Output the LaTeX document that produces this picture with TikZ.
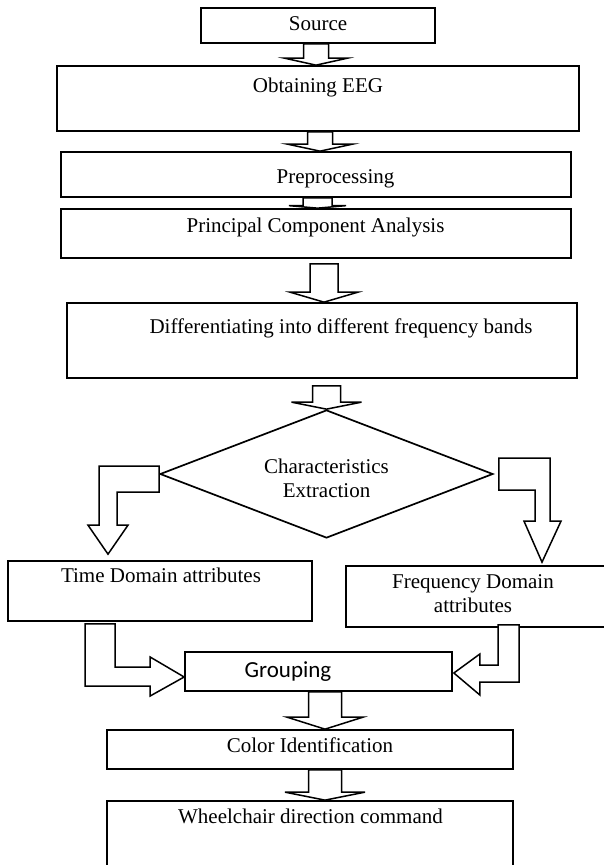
\documentclass[tikz,border=0pt]{standalone}
\usepackage{fontspec}
\setmainfont{Liberation Serif}
\newfontfamily\grpfont{Carlito}
\usepackage{tikz}
\usetikzlibrary{calc}
\usetikzlibrary{shapes.geometric}
\usetikzlibrary{positioning}

\tikzset{
  box/.style={draw, rectangle, line width=1.7pt, inner sep=0pt},
  txt/.style={anchor=base, inner sep=0pt, font=\fontsize{21}{24}\selectfont},
  fatarrow/.style={draw, line width=1.5pt, fill=white, line join=miter}
}

\newcommand{\fatdown}[5]{%
  \draw[fatarrow] let \p1=(#1), \p2=(#2) in
    (\x2-#3,\y1) -- (\x2+#3,\y1) -- (\x2+#3,\y2+#5) -- (\x2+#4,\y2+#5)
    -- (\x2,\y2) -- (\x2-#4,\y2+#5) -- (\x2-#3,\y2+#5) -- cycle;}

\begin{document}
\begin{tikzpicture}[x=1pt,y=-1pt]
            \useasboundingbox (0,0) rectangle (603,865);

            \node[box, minimum width=234, minimum height=35] (src)  at (318,25.5)  {};
            \node[box, minimum width=522, minimum height=65] (eeg)  at (318,98.5)  {};
            \node[box, minimum width=510, minimum height=45] (pre)  at (316,174.5) {};
            \node[box, minimum width=510, minimum height=49] (pca)  at (316,233.5) {};
            \node[box, minimum width=510, minimum height=75] (diff) at (322,340.5) {};
            \node[draw, diamond, line width=1.7pt, inner sep=0pt,
                  minimum width=333, minimum height=128]       (ext)  at (326.5,474) {};
            \node[box, minimum width=304, minimum height=60] (time) at (160,591)   {};
            \node[box, minimum width=262, minimum height=61] (freq) at (477,596.5) {};
            \node[box, minimum width=267, minimum height=39] (grp)  at (318.5,671.5) {};
            \node[box, minimum width=406, minimum height=39] (col)  at (310,749.5) {};
            \node[box, minimum width=406, minimum height=69] (whl)  at (310,835.5) {};

            \node[txt] (src-t)  at (318,30)   {Source};
            \node[txt] (eeg-t)  at (318,92)   {Obtaining EEG};
            \node[txt] (pre-t)  at (335.5,183) {Preprocessing};
            \node[txt] (pca-t)  at (315.5,232) {Principal Component Analysis};
            \node[txt] (diff-t) at (341,333)  {Differentiating into different frequency bands};
            \node[txt, align=center] (ext-t) at (326.5,497) {Characteristics\\Extraction};
            \node[txt] (time-t) at (161,582)  {Time Domain attributes};
            \node[txt, align=center] (freq-t) at (473,612) {Frequency Domain\\attributes};
            \node[txt, font=\grpfont\fontsize{23}{26}\selectfont] (grp-t) at (288,677) {Grouping};
            \node[txt] (col-t)  at (310,752)  {Color Identification};
            \node[txt] (whl-t)  at (310.5,823) {Wheelchair direction command};

            \fatdown{src.south}{$(eeg.north)+(-2,0)$}{12.5pt}{31.5pt}{7pt}
            \fatdown{eeg.south}{$(pre.north)+(4,0)$}{12.5pt}{32.5pt}{7pt}
            \fatdown{pre.south}{$(pca.north)+(1.5,0)$}{14.5pt}{28.5pt}{2.5pt}
            \fatdown{$(pca.south)+(0,5)$}{$(diff.north)+(2,0)$}{14pt}{34pt}{10pt}
            \fatdown{$(diff.south)+(0,7)$}{ext.north}{14pt}{35pt}{7pt}
            \fatdown{grp.south}{$(col.north)+(15,0)$}{16.5pt}{38pt}{12pt}
            \fatdown{col.south}{$(whl.north)+(15,0)$}{16.5pt}{40pt}{8pt}

            \coordinate (tipT) at ($(time.north)+(-52,-6)$);
            \coordinate (tipF) at ($(freq.north)+(65,-3)$);
            \coordinate (tipGl) at ($(grp.west)+(0,5.5)$);
            \coordinate (tipGr) at ($(grp.east)+(1,1.5)$);

            \draw[fatarrow] let \p1=(ext.west), \p2=(tipT) in
                (\x1,\y1+8pt) -- (\x2-9pt,\y1+8pt) -- (\x2-9pt,\y2+29pt) -- (\x2-20pt,\y2+29pt)
                -- (\x2,\y2) -- (\x2+20pt,\y2+29pt) -- (\x2+9pt,\y2+29pt) -- (\x2+9pt,\y1-18pt)
                -- (\x1,\y1-18pt) -- cycle;
            \draw[fatarrow] let \p1=(ext.east), \p2=(tipF) in
                (\x1+5pt,\y1+16pt) -- (\x2+8pt,\y1+16pt) -- (\x2+8pt,\y2+41pt) -- (\x2+19pt,\y2+41pt)
                -- (\x2,\y2) -- (\x2-18pt,\y2+41pt) -- (\x2-7pt,\y2+41pt) -- (\x2-7pt,\y1-16pt)
                -- (\x1+5pt,\y1-16pt) -- cycle;
            \draw[fatarrow] let \p1=(time.south), \p2=(tipGl) in
                (\x1-75pt,\y1-2pt) -- (\x1-45pt,\y1-2pt) -- (\x1-45pt,\y2+10pt) -- (\x2-34pt,\y2+10pt)
                -- (\x2-34pt,\y2+20pt) -- (\x2,\y2) -- (\x2-34pt,\y2-19pt) -- (\x2-34pt,\y2-9pt)
                -- (\x1-75pt,\y2-9pt) -- cycle;
            \draw[fatarrow] let \p1=(freq.south), \p2=(tipGr) in
                (\x1+21pt,\y1+3pt) -- (\x1+42pt,\y1+3pt) -- (\x1+42pt,\y2-9pt) -- (\x2+26pt,\y2-9pt)
                -- (\x2+26pt,\y2-22pt) -- (\x2,\y2) -- (\x2+26pt,\y2+19pt) -- (\x2+26pt,\y2+8pt)
                -- (\x1+21pt,\y2+8pt) -- cycle;
\end{tikzpicture}
\end{document}
